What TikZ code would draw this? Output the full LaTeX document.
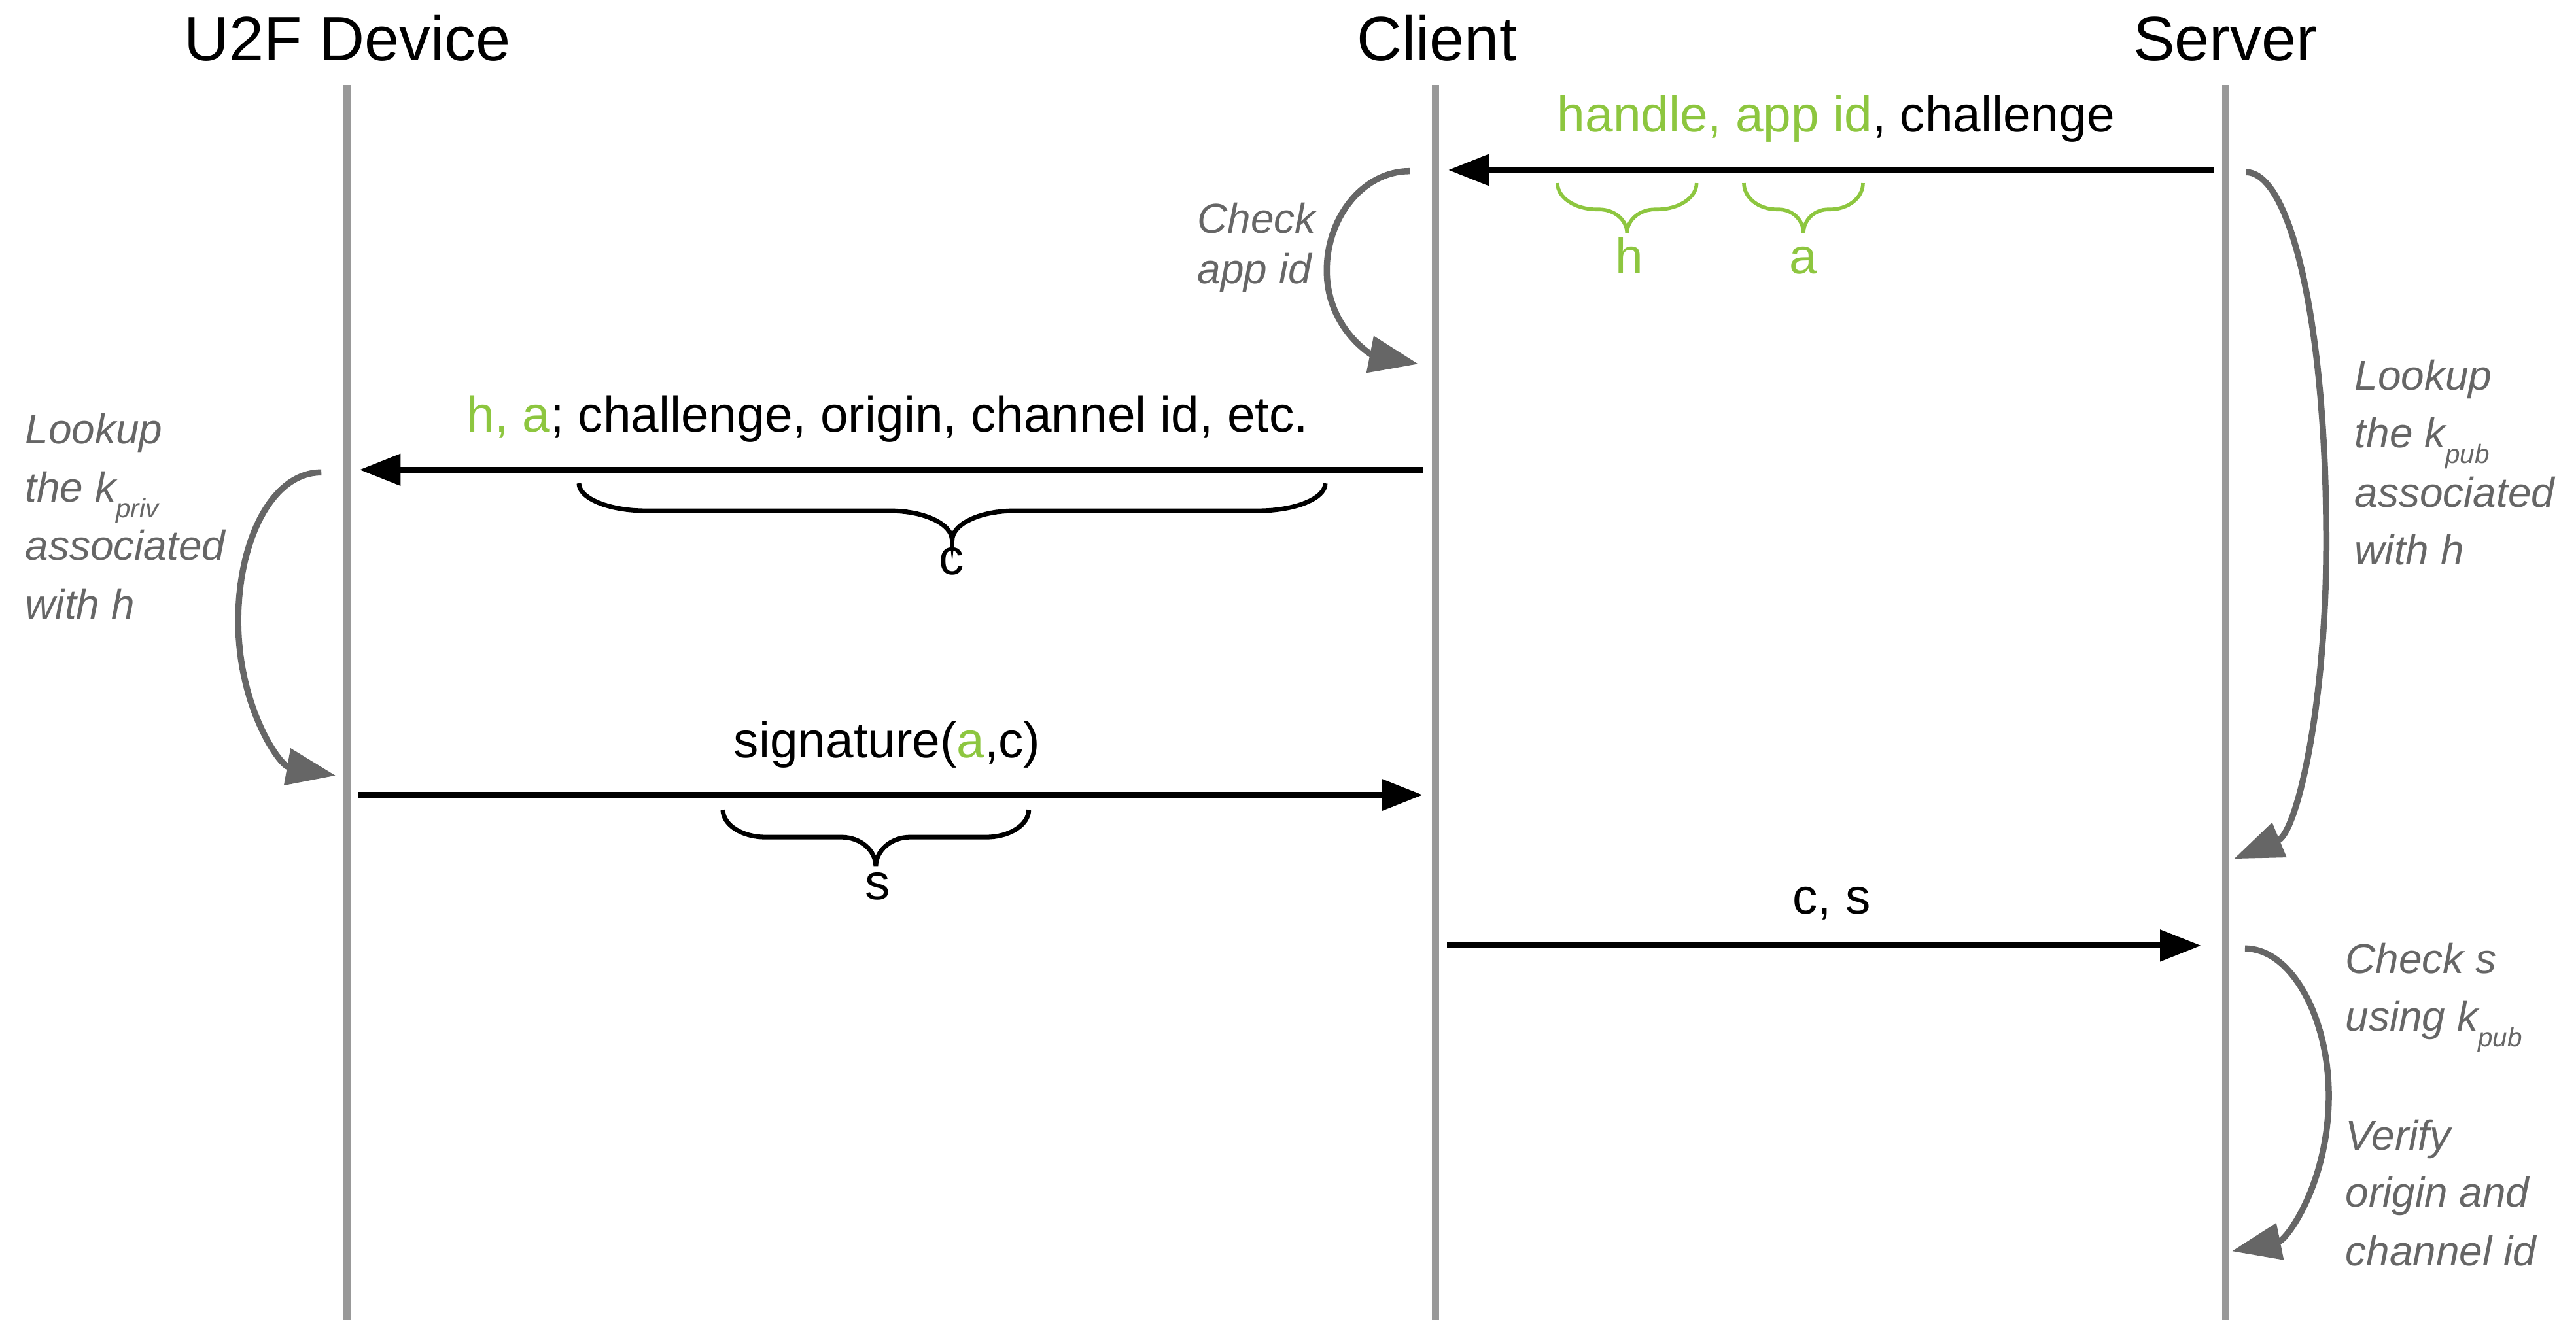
\documentclass[tikz,border=0pt]{standalone}
\usepackage{fontspec}
\setmainfont{Liberation Sans}
\usetikzlibrary{arrows.meta}
\definecolor{lifegray}{HTML}{999999}
\definecolor{notegray}{HTML}{666666}
\definecolor{u2fgreen}{HTML}{8DC63F}
% brace pointing down: #1 style, #2 x1, #3 x2, #4 top y, #5 arm depth, #6 tip depth, #7 end curl width, #8 middle curl width
\newcommand{\udbrace}[8]{%
  \pgfmathsetmacro{\bxm}{(#2+#3)/2}%
  \draw[#1] (#2,#4) .. controls (#2,#4+0.552*#5) and (#2+0.448*#7,#4+#5) .. (#2+#7,#4+#5)
    -- (\bxm-#8,#4+#5) .. controls (\bxm-0.448*#8,#4+#5) and (\bxm,#4+#6-0.552*#6+0.552*#5) .. (\bxm,#4+#6)
    .. controls (\bxm,#4+#6-0.552*#6+0.552*#5) and (\bxm+0.448*#8,#4+#5) .. (\bxm+#8,#4+#5)
    -- (#3-#7,#4+#5) .. controls (#3-0.448*#7,#4+#5) and (#3,#4+0.552*#5) .. (#3,#4);
}
\newcommand{\ksub}[1]{k\raisebox{-6.8pt}{\fontsize{11.5pt}{12pt}\selectfont #1}}
\tikzset{
  lifeline/.style={draw=lifegray, line width=3pt},
  msgarrow/.style={draw=black, line width=2.6pt, -{Triangle[length=17.9pt,width=13.3pt]}},
  looparrow/.style={draw=notegray, line width=2.7pt, -{Triangle[length=21.4pt,width=15.7pt]}},
  title/.style={font=\fontsize{27.2pt}{32pt}\selectfont, inner sep=0pt, anchor=base},
  msglabel/.style={font=\fontsize{21.8pt}{26pt}\selectfont, inner sep=0pt, anchor=base},
  annot/.style={font=\fontsize{18.2pt}{24pt}\selectfont\itshape, text=notegray, inner sep=0pt, anchor=base west},
  blackbrace/.style={draw=black, line width=2pt},
  greenbrace/.style={draw=u2fgreen, line width=1.6pt},
}
\begin{document}
\begin{tikzpicture}[x=0.25115mm, y=-0.25115mm]
\useasboundingbox (0,0) rectangle (1568,804);

% titles
\node[title] (tU) at (211.5,36.9) {U2F Device};
\node[title] (tC) at (874.6,36.9) {Client};
\node[title] (tS) at (1354.5,36.9) {Server};

% lifelines
\coordinate (uTop) at (211.2,51.8); \coordinate (uBot) at (211.2,804);
\coordinate (cTop) at (873.8,51.8); \coordinate (cBot) at (873.8,804);
\coordinate (sTop) at (1354.7,51.8); \coordinate (sBot) at (1354.7,804);
\draw[lifeline] (uTop) -- (uBot);
\draw[lifeline] (cTop) -- (cBot);
\draw[lifeline] (sTop) -- (sBot);

% message 1: server -> client
\coordinate (m1a) at (1347.8,103.5); \coordinate (m1b) at (881.5,103.5);
\draw[msgarrow] (m1a) -- (m1b);
\node[msglabel] (l1) at (1117.6,80.3) {{\color{u2fgreen}handle, app id}, challenge};
\udbrace{greenbrace}{948}{1032.7}{111.5}{16}{30.5}{24}{17}
\udbrace{greenbrace}{1061.5}{1134}{111.5}{16}{30.5}{20}{15}
\node[msglabel, text=u2fgreen] (bh) at (991.6,166.5) {h};
\node[msglabel, text=u2fgreen] (ba) at (1097.5,166.5) {a};

% message 2: client -> device
\coordinate (m2a) at (866.3,286); \coordinate (m2b) at (218.8,286);
\draw[msgarrow] (m2a) -- (m2b);
\node[msglabel] (l2) at (540.2,262.8) {{\color{u2fgreen}h, a}; challenge, origin, channel id, etc.};
\udbrace{blackbrace}{352.4}{806.7}{294.3}{16.7}{34.7}{41}{38}
\node[msglabel] (bc) at (579.1,349.6) {c};

% message 3: device -> client
\coordinate (m3a) at (218.3,484); \coordinate (m3b) at (866,484);
\draw[msgarrow] (m3a) -- (m3b);
\node[msglabel] (l3) at (540,461.2) {signature({\color{u2fgreen}a},c)};
\udbrace{blackbrace}{440}{626.2}{493}{16.7}{34.6}{26}{21}
\node[msglabel] (bs) at (534.1,547.5) {s};

% message 4: client -> server
\coordinate (m4a) at (880.8,575.7); \coordinate (m4b) at (1339.8,575.7);
\draw[msgarrow] (m4a) -- (m4b);
\node[msglabel] (l4) at (1114.8,556.4) {c, s};

% self loops
\coordinate (la1) at (858,104.2); \coordinate (la2) at (807.6,164.6); \coordinate (la3) at (863.3,221.6);
\draw[looparrow] (la1) .. controls (830,104.2) and (807.6,132) .. (la2) .. controls (807.6,200) and (835,216) .. (la3);

\coordinate (lb1) at (195.6,287.6); \coordinate (lb2) at (145,378); \coordinate (lb3) at (204.3,472.2);
\draw[looparrow] (lb1) .. controls (165,287.6) and (145,330) .. (lb2) .. controls (145,430) and (170,466) .. (lb3);

\coordinate (lc1) at (1367,104.8); \coordinate (lc2) at (1416,330); \coordinate (lc3) at (1359.8,522.9);
\draw[looparrow] (lc1) .. controls (1395,104.8) and (1416,200) .. (lc2) .. controls (1416,430) and (1398,507) .. (lc3);

\coordinate (ld1) at (1366.5,577.5); \coordinate (ld2) at (1417.5,667); \coordinate (ld3) at (1358.5,761.8);
\draw[looparrow] (ld1) .. controls (1395,577.5) and (1417.5,620) .. (ld2) .. controls (1417.5,720) and (1392,755) .. (ld3);

% annotations
\node[annot] (a1) at (728.6,142) {Check};
\node[annot] (a2) at (728.6,172.5) {app id};

\node[annot] (b1) at (15.1,270) {Lookup};
\node[annot] (b2) at (15.1,305.6) {the \ksub{priv}};
\node[annot] (b3) at (15.1,341.2) {associated};
\node[annot] (b4) at (15.1,376.7) {with h};

\node[annot] (c1) at (1433,237.6) {Lookup};
\node[annot] (c2) at (1433,272.7) {the \ksub{pub}};
\node[annot] (c3) at (1433,308.6) {associated};
\node[annot] (c4) at (1433,343.8) {with h};

\node[annot] (d1) at (1427.4,592.8) {Check s};
\node[annot] (d2) at (1427.4,627.7) {using \ksub{pub}};
\node[annot] (d3) at (1427.4,700) {Verify};
\node[annot] (d4) at (1427.4,734.9) {origin and};
\node[annot] (d5) at (1427.4,770.7) {channel id};
\end{tikzpicture}
\end{document}
